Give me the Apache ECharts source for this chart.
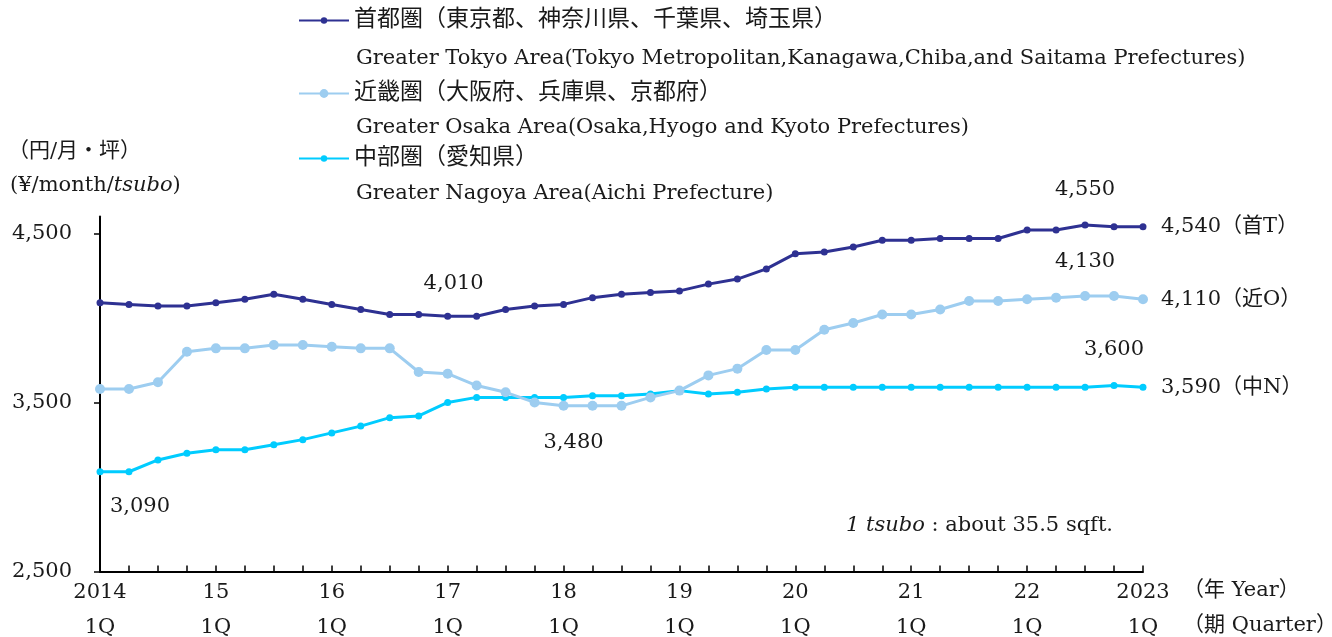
<!DOCTYPE html>
<html>
<head>
<meta charset="utf-8">
<script src="https://cdn.jsdelivr.net/npm/echarts@6/dist/echarts.min.js"></script>
<style>html,body{margin:0;padding:0;background:#fff;}#c{width:1332px;height:637px;}</style>
</head>
<body>
<div id="c"></div>
<script>
// ---- data ----
const years = ['2014','15','16','17','18','19','20','21','22','2023'];
const quarters = ['1Q','2Q','3Q','4Q'];
const tokyo = [4090,4080,4070,4070,4090,4110,4140,4110,4080,4050,4020,4020,4010,4010,
  4050,4070,4080,4120,4140,4150,4160,4200,4230,4290,4380,4390,4420,4460,4460,4470,4470,4470,4520,4520,4550,4540,4540];
const osaka = [3580,3580,3620,3800,3820,3820,3840,3840,3830,3820,3820,3680,3670,3600,
  3560,3500,3480,3480,3480,3530,3570,3660,3700,3810,3810,3930,3970,4020,4020,4050,4100,4100,4110,4120,4130,4130,4110];
const nagoya = [3090,3090,3160,3200,3220,3220,3250,3280,3320,3360,3410,3420,3500,3530,
  3530,3530,3530,3540,3540,3550,3570,3550,3560,3580,3590,3590,3590,3590,3590,3590,3590,3590,3590,3590,3590,3600,3590];
const yTicks = [2500,3500,4500];
const names = ['首都圏（東京都、神奈川県、千葉県、埼玉県）','近畿圏（大阪府、兵庫県、京都府）','中部圏（愛知県）'];
const subNames = ['Greater Tokyo Area(Tokyo Metropolitan,Kanagawa,Chiba,and Saitama Prefectures)',
  'Greater Osaka Area(Osaka,Hyogo and Kyoto Prefectures)','Greater Nagoya Area(Aichi Prefecture)'];
const endTags = ['（首T）','（近O）','（中N）'];

const categories = [];
years.forEach((y,i)=>{ quarters.forEach((q,j)=>{ if(i<years.length-1 || j===0) categories.push(y+'\n'+q); }); });

const FONT = '"DejaVu Serif","Noto Sans CJK JP",serif';
const TXT = '#1a1a1a';
const FS = 21;
const fmt = v => String(v).replace(/\B(?=(\d{3})+(?!\d))/g, ',');

// annotation placements (style only)
const notes = {
  tokyo: {12:{pos:'top',d:19,off:[6,0]}, 34:{pos:'top',d:21,off:[0,0]}},
  osaka: {16:{pos:'bottom',d:21,off:[10,0]}, 34:{pos:'top',d:19,off:[0,0]}},
  nagoya:{0:{pos:'bottom',d:21,off:[40,0]}, 35:{pos:'top',d:22,off:[0,0]}}
};
function mk(vals, key){
  return vals.map((v,i)=>{
    const n = notes[key][i];
    if(!n) return v;
    return {value:v, label:{show:true, position:n.pos, distance:n.d, offset:n.off,
      formatter:p=>fmt(p.value), fontFamily:FONT, fontSize:FS, color:TXT}};
  });
}
const colors = ['#2e3192','#9dcdf0','#00ccff'];
const sizes = [7,10,7];
const keys = ['tokyo','osaka','nagoya'];
const vals = [tokyo, osaka, nagoya];

const series = vals.map((v,k)=>({
  name: names[k], type:'line', data: mk(v, keys[k]),
  symbol:'circle', symbolSize:sizes[k], showSymbol:true,
  lineStyle:{color:colors[k], width:3}, itemStyle:{color:colors[k]},
  label:{show:false}, z: 3-k,
  endLabel:{show:true, distance:18, formatter:p=>fmt(p.value)+endTags[k], fontFamily:FONT, fontSize:FS, color:TXT},
  animation:false
}));

const legendTops = [9, 82, 147];
const legends = names.map((n,k)=>({
  data:[n], left:298, top:legendTops[k], padding:0, itemWidth:50, itemHeight:sizes[k]+1,
  textStyle:{fontFamily:FONT, fontSize:23, color:TXT}, selectedMode:false
}));
const subCenters = [60, 129, 195];

const chart = echarts.init(document.getElementById('c'), null, {renderer:'canvas'});
chart.setOption({
  backgroundColor:'#fff',
  animation:false,
  grid:{left:100, right:189, top:216.5, bottom:65.5, outerBoundsMode:'none', containLabel:false},
  legend: legends,
  xAxis:{type:'category', data:categories, boundaryGap:false,
    axisLine:{lineStyle:{color:'#000', width:2}},
    axisTick:{show:true, inside:true, length:6, interval:0, lineStyle:{color:'#000', width:1.5}},
    axisLabel:{interval:3, margin:4, lineHeight:35, fontFamily:FONT, fontSize:FS, color:TXT},
    splitLine:{show:false}},
  yAxis:{type:'value', min:2500, max:4600,
    axisLine:{show:true, lineStyle:{color:'#000', width:2}},
    axisTick:{show:true, length:6, customValues:yTicks, lineStyle:{color:'#000', width:1.5}},
    axisLabel:{customValues:yTicks, margin:28, formatter:v=>fmt(v), fontFamily:FONT, fontSize:FS, color:TXT},
    splitLine:{show:false}},
  series: series,
  graphic:[
    ...subNames.map((s,k)=>({type:'text', left:356, top:subCenters[k]-12,
      style:{text:s, font:FS+'px '+FONT, fill:TXT}})),
    {type:'text', left:8, top:141, style:{text:'（円/月・坪）', font:FS+'px '+FONT, fill:TXT}},
    {type:'text', left:10, top:175, style:{text:'(¥/month/{i|tsubo})', font:FS+'px '+FONT, fill:TXT,
      rich:{i:{fontStyle:'italic', fontFamily:FONT, fontSize:FS, fill:TXT}}}},
    {type:'text', right:219, top:515, style:{text:'{i|1 tsubo} : about 35.5 sqft.', font:FS+'px '+FONT, fill:TXT,
      rich:{i:{fontStyle:'italic', fontFamily:FONT, fontSize:FS, fill:TXT}}}},
    {type:'text', left:1183, top:580, style:{text:'（年 Year）', font:FS+'px '+FONT, fill:TXT}},
    {type:'text', left:1183, top:615, style:{text:'（期 Quarter）', font:FS+'px '+FONT, fill:TXT}}
  ]
});
</script>
</body>
</html>
